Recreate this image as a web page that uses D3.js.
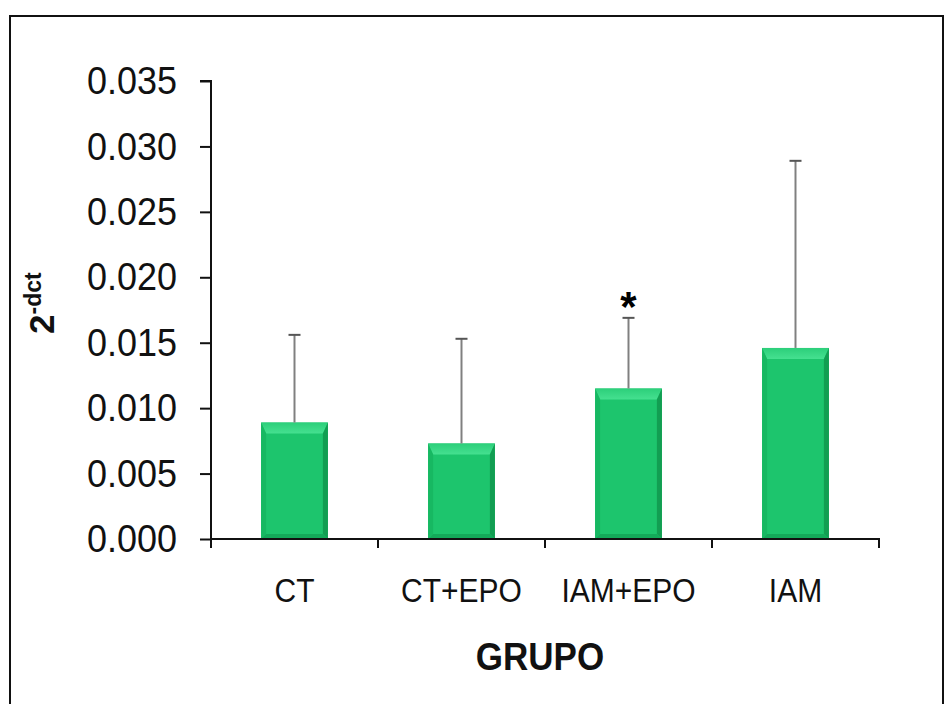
<!DOCTYPE html>
<html>
<head>
<meta charset="utf-8">
<script src="https://cdn.jsdelivr.net/npm/d3@7"></script>
<style>
  body { margin: 0; background: #fff; }
  svg { display: block; font-family: "Liberation Sans", Arial, sans-serif; }
</style>
</head>
<body>
<div id="chart"></div>
<script>
// data
let groups = ["CT", "CT+EPO", "IAM+EPO", "IAM"];
let means = [0.0089, 0.0073, 0.0115, 0.0146];
let errorTops = [0.0156, 0.0153, 0.0169, 0.0289];
let marked = [false, false, true, false];
let yTicks = [0, 0.005, 0.010, 0.015, 0.020, 0.025, 0.030, 0.035];

let W = 946, H = 704;
let marginLeft = 211, marginRight = 67, marginTop = 81, marginBottom = 165;
let width = W - marginLeft - marginRight;
let height = H - marginTop - marginBottom;

let svg = d3.select("#chart").append("svg")
    .attr("width", W)
    .attr("height", H);

// outer frame
svg.append("path")
    .attr("d", "M10," + H + "V16H943V" + H)
    .attr("fill", "none")
    .attr("stroke", "#111")
    .attr("stroke-width", 2);

let g = svg.append("g")
    .attr("transform", "translate(" + marginLeft + "," + marginTop + ")");

let x = d3.scaleBand().domain(groups).range([0, width]).paddingInner(0.6).paddingOuter(0.3);
let y = d3.scaleLinear().domain([0, 0.035]).range([height, 0]);

// bevel gradient for the top edge
let defs = svg.append("defs");
let topGrad = defs.append("linearGradient").attr("id", "topGrad")
    .attr("x1", 0).attr("y1", 0).attr("x2", 0).attr("y2", 1);
topGrad.append("stop").attr("offset", "0%").attr("stop-color", "#2ccf7a");
topGrad.append("stop").attr("offset", "100%").attr("stop-color", "#45e090");

// bars with a bevelled look
let bev = 11, side = 5;
groups.forEach(function (grp, i) {
    let x0 = x(grp), x1 = x0 + x.bandwidth();
    let y0 = y(means[i]), y1 = y(0);
    let bar = g.append("g");
    bar.append("rect")
        .attr("x", x0).attr("y", y0)
        .attr("width", x1 - x0).attr("height", y1 - y0)
        .attr("fill", "#1dc56d");
    // top bevel
    bar.append("polygon")
        .attr("points", [[x0, y0], [x1, y0], [x1 - side, y0 + bev], [x0 + side, y0 + bev]].join(" "))
        .attr("fill", "url(#topGrad)");
    // left side
    bar.append("polygon")
        .attr("points", [[x0, y0], [x0 + side, y0 + bev], [x0 + side, y1 - side], [x0, y1]].join(" "))
        .attr("fill", "#17b862");
    // right side
    bar.append("polygon")
        .attr("points", [[x1, y0], [x1 - side, y0 + bev], [x1 - side, y1 - side], [x1, y1]].join(" "))
        .attr("fill", "#129e52");
    // bottom
    bar.append("polygon")
        .attr("points", [[x0, y1], [x0 + side, y1 - side], [x1 - side, y1 - side], [x1, y1]].join(" "))
        .attr("fill", "#14aa5a");
});

// error bars (upper only)
groups.forEach(function (grp, i) {
    let cx = x(grp) + x.bandwidth() / 2;
    g.append("line")
        .attr("x1", cx).attr("x2", cx)
        .attr("y1", y(means[i])).attr("y2", y(errorTops[i]))
        .attr("stroke", "#808080").attr("stroke-width", 2);
    g.append("line")
        .attr("x1", cx - 6).attr("x2", cx + 6)
        .attr("y1", y(errorTops[i])).attr("y2", y(errorTops[i]))
        .attr("stroke", "#555").attr("stroke-width", 2);
    if (marked[i]) {
        g.append("text")
            .attr("x", cx)
            .attr("y", y(errorTops[i]) + 3)
            .attr("text-anchor", "middle")
            .style("font-size", "42px")
            .style("font-weight", "bold")
            .text("*");
    }
});

// Y axis
let yAxis = g.append("g")
    .call(d3.axisLeft(y).tickValues(yTicks).tickFormat(d3.format(".3f")).tickSize(11).tickPadding(23));
yAxis.selectAll("path, line").attr("stroke", "#111").attr("stroke-width", 2);
yAxis.select(".domain").attr("d", "M-11," + y(0.035) + "H0V" + y(0) + "H0");
yAxis.selectAll("text")
    .style("font-size", "36px")
    .style("font-family", "'Liberation Sans', Arial, sans-serif")
    .attr("transform", "scale(1,1.1)")
    .attr("fill", "#111");

// X axis
let xAxis = g.append("g")
    .attr("transform", "translate(0," + height + ")")
    .call(d3.axisBottom(x).tickSize(0).tickPadding(36));
xAxis.select(".domain").attr("d", "M0,0H" + width + "V9").attr("stroke", "#111").attr("stroke-width", 2);
xAxis.selectAll("text")
    .style("font-size", "30px")
    .style("font-family", "'Liberation Sans', Arial, sans-serif")
    .attr("transform", "scale(1,1.1)")
    .attr("fill", "#111");
// tick marks between categories
let bounds = d3.range(groups.length + 1).map(function (k) { return k * width / groups.length; });
xAxis.selectAll(".sep").data(bounds).enter().append("line")
    .attr("x1", function (d) { return d; }).attr("x2", function (d) { return d; })
    .attr("y1", 0).attr("y2", 9)
    .attr("stroke", "#111").attr("stroke-width", 2);

// x axis title
svg.append("text")
    .attr("transform", "translate(540,670) scale(1,1.1)")
    .attr("text-anchor", "middle")
    .style("font-size", "35px")
    .style("font-weight", "bold")
    .attr("fill", "#111")
    .text("GRUPO");

// y axis title 2^-dct
let yt = svg.append("text")
    .attr("transform", "translate(54,334) rotate(-90)")
    .attr("text-anchor", "start")
    .style("font-weight", "bold")
    .attr("fill", "#111");
yt.append("tspan").style("font-size", "35px").text("2");
yt.append("tspan").style("font-size", "23px").attr("dy", -13).text("-dct");
</script>
</body>
</html>
